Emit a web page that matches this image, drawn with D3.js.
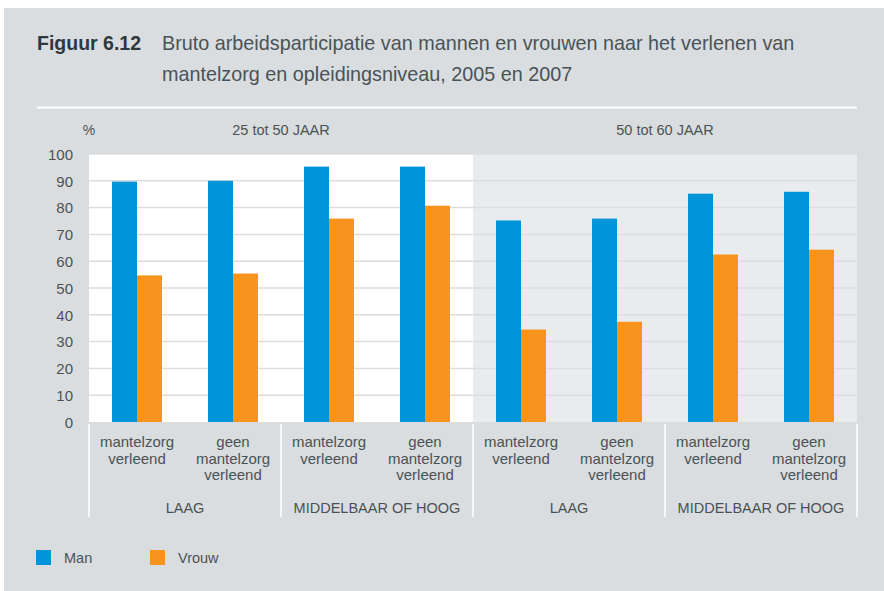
<!DOCTYPE html>
<html><head><meta charset="utf-8">
<script src="https://cdn.jsdelivr.net/npm/d3@7"></script>
<style>
html,body{margin:0;padding:0;background:#fff;}
svg text{font-family:"Liberation Sans",Arial,sans-serif;fill:#4a5357;}
</style></head>
<body>
<script>
const categories = [
  ["mantelzorg","verleend"],["geen","mantelzorg","verleend"],
  ["mantelzorg","verleend"],["geen","mantelzorg","verleend"],
  ["mantelzorg","verleend"],["geen","mantelzorg","verleend"],
  ["mantelzorg","verleend"],["geen","mantelzorg","verleend"]
];
const educationGroups = ["LAAG","MIDDELBAAR OF HOOG","LAAG","MIDDELBAAR OF HOOG"];
const ageGroups = ["25 tot 50 JAAR","50 tot 60 JAAR"];
const man =   [89.7, 90.0, 95.3, 95.3, 75.2, 75.9, 85.2, 85.9];
const vrouw = [54.7, 55.4, 75.9, 80.7, 34.5, 37.4, 62.5, 64.3];
const yTicks = [0,10,20,30,40,50,60,70,80,90,100];
const seriesNames = ["Man","Vrouw"];
const colors = ["#0095d9","#f7941d"];

const W = 884, H = 591;
const svg = d3.select("body").append("svg").attr("width",W).attr("height",H);

// panel background
svg.append("rect").attr("x",4).attr("y",8).attr("width",W-4).attr("height",H-8).attr("fill","#d9dde0");

// title
svg.append("text").attr("x",37).attr("y",50).attr("font-size",19.5).attr("font-weight","bold")
  .style("fill","#2f383c").text("Figuur 6.12");
svg.append("text").attr("x",162).attr("y",50).attr("font-size",19.8).text("Bruto arbeidsparticipatie van mannen en vrouwen naar het verlenen van");
svg.append("text").attr("x",162).attr("y",81).attr("font-size",19.8).text("mantelzorg en opleidingsniveau, 2005 en 2007");
svg.append("line").attr("x1",37).attr("x2",857).attr("y1",107.5).attr("y2",107.5).attr("stroke","#fff").attr("stroke-width",2);

const x0 = 89, x1 = 857, yTop = 154, yBot = 422;
const x = d3.scaleBand().domain(d3.range(categories.length)).range([x0,x1]).padding(0);
const y = d3.scaleLinear().domain([0,100]).range([yBot,yTop]);
const xs = d3.scaleBand().domain(seriesNames).range([0,50]);

// plot backgrounds
const half = (x1-x0)/2;
svg.append("rect").attr("x",x0).attr("y",yTop).attr("width",half).attr("height",yBot-yTop).attr("fill","#ffffff");
svg.append("rect").attr("x",x0+half).attr("y",yTop).attr("width",half).attr("height",yBot-yTop).attr("fill","#e8ecee");

// gridlines
svg.append("g").selectAll("line").data(yTicks.filter(d=>d>0)).join("line")
  .attr("x1",x0).attr("x2",x1).attr("y1",d=>y(d)).attr("y2",d=>y(d))
  .attr("stroke","#dadee1").attr("stroke-width",1.5);

// y axis
const yAxis = d3.axisLeft(y).tickValues(yTicks).tickSize(0).tickPadding(0);
const gy = svg.append("g").attr("transform",`translate(73,0)`).call(yAxis);
gy.select(".domain").remove();
gy.selectAll("text").attr("font-size",15).attr("font-family","Liberation Sans, Arial, sans-serif").style("fill","#4a5357").attr("dy","0.35em");

// headers
svg.append("text").attr("x",89).attr("y",135).attr("font-size",14).attr("text-anchor","middle").text("%");
ageGroups.forEach((a,i)=>{
  svg.append("text").attr("x",x0+half*i+half/2).attr("y",135).attr("font-size",14.5).attr("text-anchor","middle").text(a);
});

// bars
const gBars = svg.append("g");
[man,vrouw].forEach((vals,si)=>{
  gBars.append("g").selectAll("rect").data(vals).join("rect")
    .attr("x",(d,i)=>x(i)+x.bandwidth()/2-25+xs(seriesNames[si]))
    .attr("width",xs.bandwidth())
    .attr("y",d=>y(d)).attr("height",d=>yBot-y(d))
    .attr("fill",colors[si]);
});

// category labels
categories.forEach((lines,i)=>{
  const t = svg.append("text").attr("x",x(i)+x.bandwidth()/2).attr("y",447).attr("font-size",15).attr("text-anchor","middle");
  lines.forEach((l,j)=>t.append("tspan").attr("x",x(i)+x.bandwidth()/2).attr("dy",j===0?0:16.5).text(l));
});
// education group labels
educationGroups.forEach((g,i)=>{
  svg.append("text").attr("x",x0+192*i+96).attr("y",513).attr("font-size",14.5).attr("text-anchor","middle").text(g);
});
// separators
d3.range(5).forEach(i=>{
  svg.append("line").attr("x1",x0+192*i).attr("x2",x0+192*i).attr("y1",424).attr("y2",517)
    .attr("stroke","#ffffff").attr("stroke-width",1.5);
});

// legend
const legX = [36,150];
seriesNames.forEach((s,i)=>{
  svg.append("rect").attr("x",legX[i]).attr("y",550).attr("width",15).attr("height",15).attr("fill",colors[i]);
  svg.append("text").attr("x",legX[i]+28).attr("y",563).attr("font-size",14.5).text(s);
});
</script>
</body></html>
